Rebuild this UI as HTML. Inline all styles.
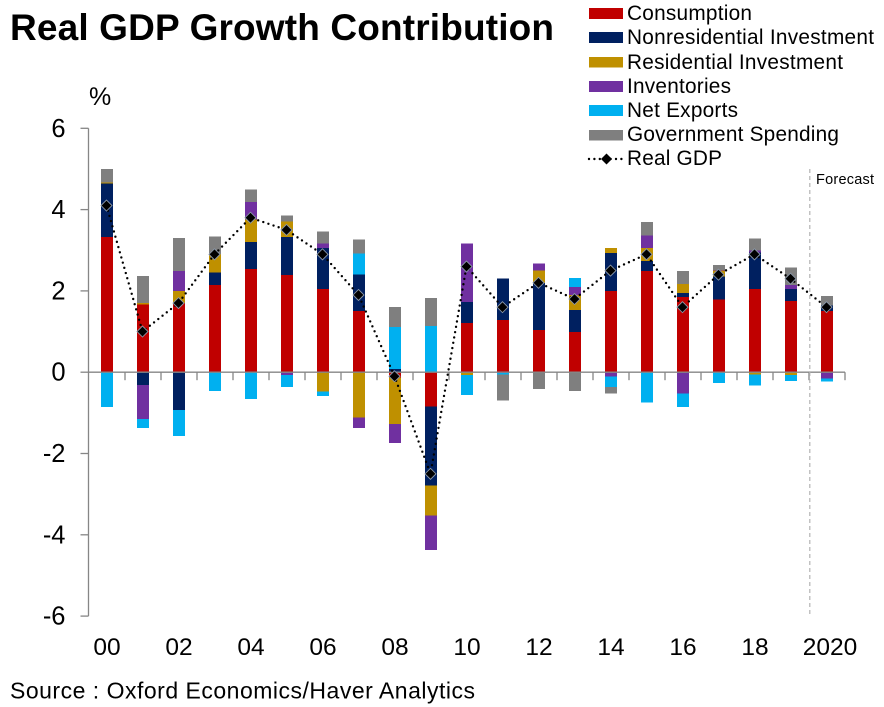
<!DOCTYPE html>
<html>
<head>
<meta charset="utf-8">
<style>
html,body{margin:0;padding:0;background:#fff;width:884px;height:707px;overflow:hidden}
svg{display:block;font-family:"Liberation Sans",sans-serif;fill:#000}
</style>
</head>
<body>
<svg id="chart" width="884" height="707" viewBox="0 0 884 707" xmlns="http://www.w3.org/2000/svg">
  <text x="10" y="40" font-size="37" font-weight="700" textLength="544" lengthAdjust="spacing">Real GDP Growth Contribution</text>
  <text x="89" y="105" font-size="25">%</text>
  <g id="plot"></g>
  <line x1="809.8" x2="809.8" y1="169" y2="616" stroke="#b4b4b4" stroke-width="1.2" stroke-dasharray="4 3"/>
  <text x="816" y="184" font-size="14.5" textLength="58" lengthAdjust="spacing">Forecast</text>
  <g font-size="20.8">
    <g><rect x="589" y="8" width="34" height="11" fill="#c00000"/><text x="627" y="20" textLength="125" lengthAdjust="spacing">Consumption</text></g>
    <g><rect x="589" y="32" width="34" height="11" fill="#002060"/><text x="627" y="44" textLength="247" lengthAdjust="spacing">Nonresidential Investment</text></g>
    <g><rect x="589" y="57" width="34" height="10.500" fill="#bf9000"/><text x="627" y="69" textLength="216" lengthAdjust="spacing">Residential Investment</text></g>
    <g><rect x="589" y="81" width="34" height="11" fill="#7030a0"/><text x="627" y="93" textLength="104" lengthAdjust="spacing">Inventories</text></g>
    <g><rect x="589" y="105" width="34" height="11" fill="#00b0f0"/><text x="627" y="117" textLength="111" lengthAdjust="spacing">Net Exports</text></g>
    <g><rect x="589" y="130" width="34" height="10.500" fill="#7f7f7f"/><text x="627" y="141" textLength="212" lengthAdjust="spacing">Government Spending</text></g>
    <g><line x1="589" x2="623" y1="159" y2="159" stroke="#000" stroke-width="2.4" stroke-linecap="round" stroke-dasharray="0 5.400"/><path d="M606.500 153.500L612 159L606.500 164.500L601 159Z" fill="#000"/><text x="627" y="165" textLength="95" lengthAdjust="spacing">Real GDP</text></g>
  </g>
  <text x="10" y="698.500" font-size="23" textLength="465" lengthAdjust="spacing">Source : Oxford Economics/Haver Analytics</text>
</svg>
<script>
const categories = ["00","01","02","03","04","05","06","07","08","09","10","11","12","13","14","15","16","17","18","19","2020"];
const tickLabels = ["00","02","04","06","08","10","12","14","16","18","2020"];
const yTicks = [6,4,2,0,-2,-4,-6];
const seriesNames = ["consumption","nonresidential-investment","residential-investment","inventories","net-exports","government-spending"];
const seriesColors = ["#c00000","#002060","#bf9000","#7030a0","#00b0f0","#7f7f7f"];
const consumption = [3.33,1.66,1.70,2.15,2.54,2.39,2.05,1.51,-0.13,-0.84,1.21,1.29,1.04,0.99,2.00,2.49,1.85,1.79,2.05,1.75,1.50];
const nonresidential = [1.31,-0.31,-0.93,0.30,0.66,0.93,1.01,0.89,0.08,-1.95,0.52,1.01,1.15,0.54,0.93,0.25,0.10,0.56,0.89,0.30,0.14];
const residential = [0.03,0.04,0.30,0.46,0.56,0.39,-0.48,-1.12,-1.14,-0.74,-0.07,0,0.31,0.37,0.12,0.32,0.22,0.15,-0.06,-0.07,0];
const inventories = [0,-0.84,0.49,0,0.43,-0.07,0.10,-0.25,-0.47,-0.84,1.43,-0.02,0.17,0.20,-0.11,0.30,-0.53,0.02,0.05,0.10,-0.16];
const netExports = [-0.85,-0.22,-0.64,-0.46,-0.66,-0.30,-0.10,0.52,1.03,1.14,-0.49,-0.04,0,0.22,-0.25,-0.75,-0.32,-0.26,-0.27,-0.15,-0.07];
const government = [0.33,0.67,0.81,0.43,0.30,0.15,0.30,0.34,0.49,0.69,0,-0.64,-0.41,-0.46,-0.17,0.34,0.32,0.12,0.30,0.42,0.24];
const realGdp = [4.1,1.0,1.7,2.9,3.8,3.5,2.9,1.9,-0.1,-2.5,2.6,1.6,2.2,1.8,2.5,2.9,1.6,2.4,2.9,2.3,1.6];
const allSeries = [consumption,nonresidential,residential,inventories,netExports,government];

const NS = "http://www.w3.org/2000/svg";
const plot = document.getElementById("plot");
const axisColor = "#868686";
function xScale(i){ return 107 + i * 36; }
function yScale(v){ return 372.2 - v * 40.65; }
function make(tag, attrs, parent){
  const el = document.createElementNS(NS, tag);
  for (const k in attrs) el.setAttribute(k, attrs[k]);
  (parent || plot).appendChild(el);
  return el;
}

categories.forEach(function(cat, i){
  let pos = 0, neg = 0;
  allSeries.forEach(function(series, s){
    const v = series[i];
    if (!v) return;
    const from = v > 0 ? pos : neg;
    const to = from + v;
    if (v > 0) pos = to; else neg = to;
    const r = make("rect", {x: xScale(i) - 6, width: 12, y: Math.min(yScale(from), yScale(to)), height: Math.abs(yScale(to) - yScale(from)), fill: seriesColors[s], "shape-rendering": "crispEdges"});
    
    
  });
});

const yAxis = make("line", {x1: 88.5, x2: 88.5, y1: yScale(6), y2: yScale(-6), stroke: axisColor, "stroke-width": 1.3});


yTicks.forEach(function(t){
  const tick = make("line", {x1: 80.5, x2: 88.5, y1: yScale(t), y2: yScale(t), stroke: axisColor, "stroke-width": 1.3});
  
  
  const label = make("text", {x: 65.5, y: yScale(t) + 8.5, "text-anchor": "end", "font-size": 25.5});
  label.textContent = t;
  
  
});

const xAxis = make("line", {x1: 88.5, x2: xScale(categories.length - 1) + 18, y1: yScale(0), y2: yScale(0), stroke: axisColor, "stroke-width": 1.3});


categories.forEach(function(cat, i){
  const tick = make("line", {x1: xScale(i) + 18, x2: xScale(i) + 18, y1: yScale(0), y2: yScale(0) + 8, stroke: axisColor, "stroke-width": 1.3});
  
  
  if (tickLabels.indexOf(cat) >= 0) {
    const label = make("text", {x: cat === "2020" ? xScale(i) + 3 : xScale(i), y: 655, "text-anchor": "middle", "font-size": 24.5});
    label.textContent = cat;
    
    
  }
});

const line = make("polyline", {points: realGdp.map(function(v, i){ return (xScale(i) - 0.5) + "," + yScale(v); }).join(" "), fill: "none", stroke: "#000", "stroke-width": 2.4, "stroke-linecap": "round", "stroke-dasharray": "0 5.4"});


realGdp.forEach(function(v, i){
  const cx = xScale(i) - 0.5, cy = yScale(v), r = 5.5;
  const m = make("path", {d: "M" + cx + " " + (cy - r) + "L" + (cx + r) + " " + cy + "L" + cx + " " + (cy + r) + "L" + (cx - r) + " " + cy + "Z", fill: "#000", stroke: "#8a97a8", "stroke-width": 0.9});
  
  
});
</script>
</body>
</html>
